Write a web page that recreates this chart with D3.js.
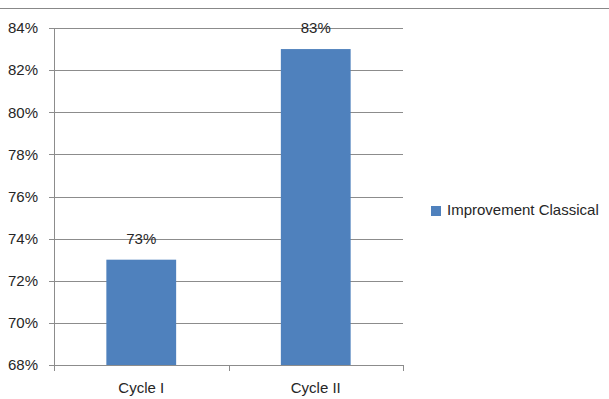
<!DOCTYPE html>
<html>
<head>
<meta charset="utf-8">
<script src="https://cdn.jsdelivr.net/npm/d3@7"></script>
<style>
  body { margin: 0; background: #fff; }
  text { font-family: "Liberation Sans", Arial, sans-serif; fill: #262626; }
</style>
</head>
<body>
<div id="chart"></div>
<script>
const categories = ["Cycle I", "Cycle II"];
const values = [73, 83];
const seriesName = "Improvement Classical";
const yTicks = [68, 70, 72, 74, 76, 78, 80, 82, 84];

const W = 609, H = 399;
const margin = { top: 28, left: 54, right: 206, bottom: 34 };
const width = W - margin.left - margin.right;
const height = H - margin.top - margin.bottom;
const fontSize = "15px";

const svg = d3.select("#chart").append("svg")
    .attr("width", W)
    .attr("height", H);

// border line at the top of the picture
svg.append("line")
    .attr("x1", 0).attr("x2", W)
    .attr("y1", 8.5).attr("y2", 8.5)
    .style("stroke", "#888")
    .style("stroke-width", 1);

const g = svg.append("g")
    .attr("transform", "translate(" + margin.left + "," + margin.top + ")");

const x = d3.scaleBand()
    .domain(categories)
    .range([0, width])
    .paddingInner(0.6)
    .paddingOuter(0.3);

const y = d3.scaleLinear()
    .domain([68, 84])
    .range([height, 0]);

// gridlines
g.selectAll(".grid")
    .data(yTicks)
    .enter().append("line")
    .attr("class", "grid")
    .attr("x1", -5)
    .attr("x2", width)
    .attr("y1", d => Math.round(y(d)) + 0.5)
    .attr("y2", d => Math.round(y(d)) + 0.5)
    .style("stroke", "#8c8c8c")
    .style("stroke-width", 1);

// y axis labels
g.selectAll(".ylab")
    .data(yTicks)
    .enter().append("text")
    .attr("class", "ylab")
    .attr("x", -16)
    .attr("y", d => y(d))
    .attr("dy", "0.35em")
    .attr("text-anchor", "end")
    .style("font-size", fontSize)
    .text(d => d + "%");

// bars
g.selectAll(".bar")
    .data(values)
    .enter().append("rect")
    .attr("class", "bar")
    .attr("x", (d, i) => x(categories[i]))
    .attr("width", x.bandwidth())
    .attr("y", d => y(d))
    .attr("height", d => height - y(d))
    .style("fill", "#4f81bd");

// value labels
g.selectAll(".vlab")
    .data(values)
    .enter().append("text")
    .attr("class", "vlab")
    .attr("x", (d, i) => x(categories[i]) + x.bandwidth() / 2)
    .attr("y", d => y(d) - 21)
    .attr("dy", "0.35em")
    .attr("text-anchor", "middle")
    .style("font-size", fontSize)
    .text(d => d + "%");

// axes lines
g.append("line")
    .attr("x1", 0.5).attr("x2", 0.5)
    .attr("y1", 0).attr("y2", height + 5)
    .style("stroke", "#8c8c8c");

g.append("line")
    .attr("x1", 0).attr("x2", width)
    .attr("y1", height + 0.5).attr("y2", height + 0.5)
    .style("stroke", "#8c8c8c");

// category tick marks at band boundaries
const step = width / categories.length;
g.selectAll(".xtick")
    .data(d3.range(categories.length + 1))
    .enter().append("line")
    .attr("class", "xtick")
    .attr("x1", d => Math.round(d * step) + 0.5)
    .attr("x2", d => Math.round(d * step) + 0.5)
    .attr("y1", height)
    .attr("y2", height + 6)
    .style("stroke", "#8c8c8c");

// x labels
g.selectAll(".xlab")
    .data(categories)
    .enter().append("text")
    .attr("class", "xlab")
    .attr("x", d => x(d) + x.bandwidth() / 2)
    .attr("y", height + 23)
    .attr("dy", "0.35em")
    .attr("text-anchor", "middle")
    .style("font-size", fontSize)
    .text(d => d);

// legend
const legend = svg.append("g")
    .attr("transform", "translate(431,206)");

legend.append("rect")
    .attr("width", 10)
    .attr("height", 10)
    .style("fill", "#4f81bd");

legend.append("text")
    .attr("x", 16)
    .attr("y", 4)
    .attr("dy", "0.35em")
    .style("font-size", fontSize)
    .text(seriesName);
</script>
</body>
</html>
